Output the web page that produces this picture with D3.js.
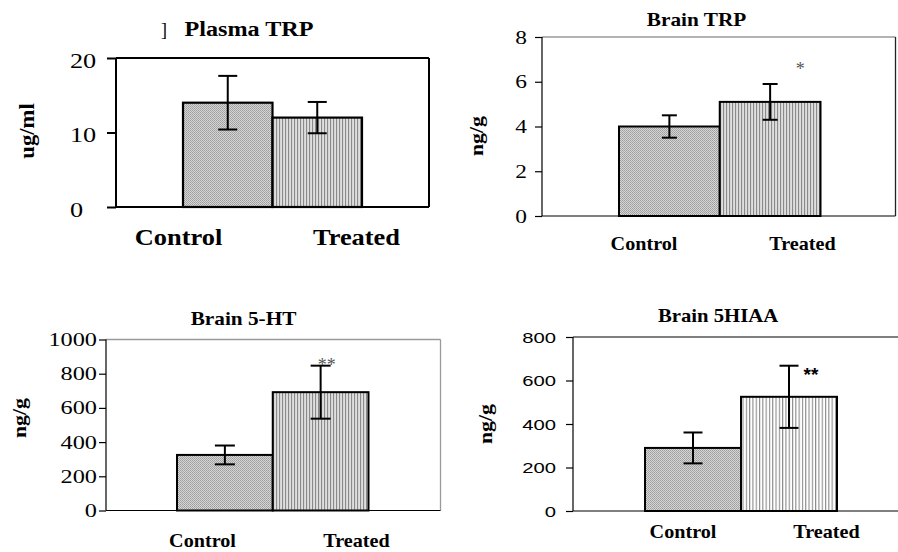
<!DOCTYPE html>
<html>
<head>
<meta charset="utf-8">
<script src="https://cdn.jsdelivr.net/npm/d3@7"></script>
<style>
  html, body { margin: 0; padding: 0; background: #fff; }
  svg { display: block; }
</style>
</head>
<body>
<svg id="chart" width="898" height="552"></svg>
<script>
// ---------- DATA ----------
const categories = ["Control", "Treated"];

const plasmaTRPMeans = [14.0, 12.0];
const plasmaTRPErrors = [3.6, 2.1];
const plasmaTRPTicks = [0, 10, 20];

const brainTRPMeans = [4.0, 5.1];
const brainTRPErrors = [0.5, 0.8];
const brainTRPTicks = [0, 2, 4, 6, 8];

const brain5HTMeans = [325, 692];
const brain5HTErrors = [55, 155];
const brain5HTTicks = [0, 200, 400, 600, 800, 1000];

const brain5HIAAMeans = [290, 525];
const brain5HIAAErrors = [71, 143];
const brain5HIAATicks = [0, 200, 400, 600, 800];

const titles = ["Plasma TRP", "Brain TRP", "Brain 5-HT", "Brain 5HIAA"];
const yLabels = ["ug/ml", "ng/g", "ng/g", "ng/g"];
const significance = ["", "*", "**", "**"];

// ---------- DRAWING ----------
const svg = d3.select("#chart");
const SERIF = "'Liberation Serif', 'Times New Roman', serif";
const SANS = "'Liberation Sans', Arial, sans-serif";

const defs = svg.append("defs");
// control pattern: fine checker texture
const pc = defs.append("pattern").attr("id", "ctrlPat")
  .attr("width", 2).attr("height", 2).attr("patternUnits", "userSpaceOnUse");
pc.append("rect").attr("width", 2).attr("height", 2).attr("fill", "#d6d6d6");
pc.append("rect").attr("x", 0).attr("y", 0).attr("width", 1).attr("height", 1).attr("fill", "#9c9c9c");
pc.append("rect").attr("x", 1).attr("y", 1).attr("width", 1).attr("height", 1).attr("fill", "#a8a8a8");
// treated pattern: vertical lines on light grey
const pt = defs.append("pattern").attr("id", "trtPat")
  .attr("width", 3).attr("height", 4).attr("patternUnits", "userSpaceOnUse");
pt.append("rect").attr("width", 3).attr("height", 4).attr("fill", "#dedede");
pt.append("rect").attr("x", 0).attr("width", 1.1).attr("height", 4).attr("fill", "#8a8a8a");
// treated pattern (light): vertical lines on white
const pw = defs.append("pattern").attr("id", "trtPatW")
  .attr("width", 3.3).attr("height", 4).attr("patternUnits", "userSpaceOnUse");
pw.append("rect").attr("width", 3.3).attr("height", 4).attr("fill", "#ffffff");
pw.append("rect").attr("x", 0).attr("width", 1.1).attr("height", 4).attr("fill", "#8a8a8a");

function stretched(g, txt, x, y, opts) {
  return g.append("text")
    .attr("transform", `translate(${x},${y}) scale(${opts.sx || 1},1)`)
    .attr("text-anchor", opts.anchor || "middle")
    .attr("font-family", opts.family || SERIF)
    .attr("font-size", opts.size)
    .attr("font-weight", opts.weight || "normal")
    .attr("fill", opts.fill || "#000")
    .text(txt);
}

function panel(cfg) {
  const g = svg.append("g");
  const y = d3.scaleLinear().domain([0, cfg.ymax]).range([cfg.bottom, cfg.top]);
  const x = d3.scaleBand().domain(categories)
    .range([cfg.left + cfg.gapL, cfg.right - cfg.gapR]).paddingInner(0).paddingOuter(0);
  const xl = d3.scalePoint().domain(categories).range(cfg.labelRange);

  // frame
  const fr = cfg.frame;
  if (fr.top) g.append("line").attr("x1", cfg.left).attr("x2", cfg.right).attr("y1", cfg.top).attr("y2", cfg.top)
    .attr("stroke", fr.top).attr("stroke-width", fr.topW || 1.2);
  if (fr.right) g.append("line").attr("x1", cfg.right).attr("x2", cfg.right).attr("y1", cfg.top).attr("y2", cfg.bottom)
    .attr("stroke", fr.right).attr("stroke-width", fr.rightW || 1.2);

  // bars
  const data = categories.map((c, i) => ({ c, v: cfg.means[i], e: cfg.errs[i], i }));
  g.selectAll("rect.bar").data(data).join("rect")
    .attr("class", "bar")
    .attr("x", d => x(d.c)).attr("y", d => y(d.v))
    .attr("width", x.bandwidth()).attr("height", d => y(0) - y(d.v))
    .attr("fill", d => `url(#${cfg.fills[d.i]})`)
    .attr("stroke", "#000").attr("stroke-width", cfg.barStroke);

  // error bars
  const eb = g.selectAll("g.err").data(data).join("g").attr("class", "err");
  eb.append("line").attr("x1", d => x(d.c) + x.bandwidth() / 2).attr("x2", d => x(d.c) + x.bandwidth() / 2)
    .attr("y1", d => y(d.v + d.e)).attr("y2", d => y(d.v - d.e))
    .attr("stroke", "#000").attr("stroke-width", 2);
  [1, -1].forEach(s => {
    eb.append("line")
      .attr("x1", d => x(d.c) + x.bandwidth() / 2 - cfg.cap / 2)
      .attr("x2", d => x(d.c) + x.bandwidth() / 2 + cfg.cap / 2)
      .attr("y1", d => y(d.v + s * d.e)).attr("y2", d => y(d.v + s * d.e))
      .attr("stroke", "#000").attr("stroke-width", 2);
  });

  // left + bottom axis lines
  g.append("line").attr("x1", cfg.left).attr("x2", cfg.left).attr("y1", cfg.top).attr("y2", cfg.bottom)
    .attr("stroke", "#000").attr("stroke-width", cfg.axisW);
  g.append("line").attr("x1", cfg.left).attr("x2", cfg.bottomRight || cfg.right).attr("y1", cfg.bottom).attr("y2", cfg.bottom)
    .attr("stroke", "#000").attr("stroke-width", cfg.axisW);

  // y axis ticks
  const ax = g.append("g").attr("transform", `translate(${cfg.left},0)`)
    .call(d3.axisLeft(y).tickValues(cfg.ticks).tickSize(cfg.tickLen).tickFormat(d3.format("d")));
  ax.select(".domain").remove();
  ax.selectAll(".tick line").attr("stroke", "#000").attr("stroke-width", cfg.axisW);
  ax.selectAll(".tick text").remove();
  ax.selectAll(".tick").each(function (d) {
    stretched(d3.select(this), String(d), cfg.tickTextX - cfg.left, cfg.tickDy, {
      anchor: cfg.tickAnchor, size: cfg.tickSize, sx: cfg.tickSx, family: cfg.tickFamily
    });
  });

  // category labels
  categories.forEach(c => {
    stretched(g, c, xl(c), cfg.labelY, { size: cfg.labelSize, weight: "bold", sx: cfg.labelSx });
  });

  // title
  stretched(g, cfg.title, cfg.titleX, cfg.titleY, { size: cfg.titleSize, weight: "bold", sx: cfg.titleSx });

  // y label (rotated)
  g.append("text")
    .attr("transform", `translate(${cfg.ylabX},${cfg.ylabY}) rotate(-90) scale(${cfg.ylabSx},1)`)
    .attr("text-anchor", "middle").attr("font-family", SERIF)
    .attr("font-size", cfg.ylabSize).attr("font-weight", "bold").text(cfg.ylab);

  // significance mark
  if (cfg.sig) {
    const tr = data[1];
    stretched(g, cfg.sig, x(tr.c) + x.bandwidth() / 2 + cfg.sigDx, y(cfg.sigVal) + cfg.sigDy, {
      size: cfg.sigSize, family: cfg.sigFamily, weight: cfg.sigWeight, fill: cfg.sigFill, sx: 1
    });
  }
  return g;
}

// Panel 1 - Plasma TRP
const g1 = panel({
  left: 116, right: 429, top: 58, bottom: 207, gapL: 67, gapR: 67,
  ymax: 20, ticks: plasmaTRPTicks, means: plasmaTRPMeans, errs: plasmaTRPErrors,
  fills: ["ctrlPat", "trtPat"], barStroke: 2.2, cap: 19, axisW: 2,
  frame: { top: "#000", topW: 2, right: "#000", rightW: 2 },
  tickLen: 9, tickTextX: 70, tickAnchor: "start", tickSize: 21, tickSx: 1.25, tickDy: 9, tickFamily: SERIF,
  labelRange: [178.5, 356.5], labelY: 245, labelSize: 24, labelSx: 1.1,
  title: titles[0], titleX: 249, titleY: 36, titleSize: 21, titleSx: 1.15,
  ylab: yLabels[0], ylabX: 34, ylabY: 131, ylabSize: 21, ylabSx: 1.08,
  sig: significance[0]
});
stretched(g1, "]", 164, 36, { size: 18, sx: 1 });

// Panel 2 - Brain TRP
panel({
  left: 542, right: 895.5, top: 37, bottom: 216, gapL: 77, gapR: 75,
  ymax: 8, ticks: brainTRPTicks, means: brainTRPMeans, errs: brainTRPErrors,
  fills: ["ctrlPat", "trtPat"], barStroke: 2, cap: 15, axisW: 1.2,
  frame: { top: "#9a9a9a", topW: 1.5, right: "#222", rightW: 1.3 },
  tickLen: 7, tickTextX: 527, tickAnchor: "end", tickSize: 18, tickSx: 1.3, tickDy: 6, tickFamily: SERIF,
  labelRange: [644, 802.5], labelY: 250, labelSize: 18, labelSx: 1.12,
  title: titles[1], titleX: 696.5, titleY: 26, titleSize: 18.5, titleSx: 1.15,
  ylab: yLabels[1], ylabX: 483, ylabY: 136, ylabSize: 19, ylabSx: 1.15,
  sig: significance[1], sigVal: 6.6, sigDx: 30, sigDy: 7, sigSize: 18, sigFamily: SERIF, sigWeight: "normal", sigFill: "#555"
});

// Panel 3 - Brain 5-HT
panel({
  left: 106, right: 440.5, top: 339.5, bottom: 510.5, gapL: 71, gapR: 72,
  ymax: 1000, ticks: brain5HTTicks, means: brain5HTMeans, errs: brain5HTErrors,
  fills: ["ctrlPat", "trtPat"], barStroke: 2, cap: 20, axisW: 1.2,
  frame: { top: "#9a9a9a", topW: 1.5, right: "#9a9a9a", rightW: 1.3 },
  tickLen: 7, tickTextX: 97, tickAnchor: "end", tickSize: 18, tickSx: 1.35, tickDy: 6, tickFamily: SERIF,
  labelRange: [202.5, 356.5], labelY: 547, labelSize: 18, labelSx: 1.12,
  title: titles[2], titleX: 243.5, titleY: 325, titleSize: 18.5, titleSx: 1.15,
  ylab: yLabels[2], ylabX: 26, ylabY: 418, ylabSize: 19, ylabSx: 1.15,
  sig: significance[2], sigVal: 870, sigDx: 6, sigDy: 9, sigSize: 18, sigFamily: SERIF, sigWeight: "normal", sigFill: "#555"
});

// Panel 4 - Brain 5HIAA
panel({
  left: 573, right: 909, bottomRight: 898, top: 337, bottom: 511, gapL: 72, gapR: 72,
  ymax: 800, ticks: brain5HIAATicks, means: brain5HIAAMeans, errs: brain5HIAAErrors,
  fills: ["ctrlPat", "trtPatW"], barStroke: 2, cap: 19, axisW: 1.2,
  frame: { top: "#000", topW: 1.2 },
  tickLen: 7, tickTextX: 556, tickAnchor: "end", tickSize: 15, tickSx: 1.35, tickDy: 5, tickFamily: SANS,
  labelRange: [683, 826.5], labelY: 538, labelSize: 18, labelSx: 1.12,
  title: titles[3], titleX: 718, titleY: 322, titleSize: 18.5, titleSx: 1.12,
  ylab: yLabels[3], ylabX: 492, ylabY: 424, ylabSize: 19, ylabSx: 1.15,
  sig: significance[3], sigVal: 667, sigDx: 22, sigDy: 15, sigSize: 19, sigFamily: SANS, sigWeight: "bold", sigFill: "#000"
});
</script>
</body>
</html>
